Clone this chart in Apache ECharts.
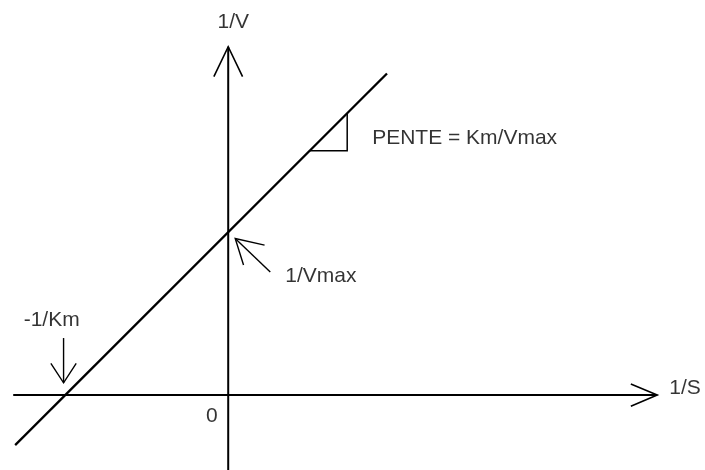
<!DOCTYPE html>
<html>
<head>
<meta charset="utf-8">
<script src="https://cdn.jsdelivr.net/npm/echarts@6/dist/echarts.min.js"></script>
<style>html,body{margin:0;padding:0;background:#fff}#c{width:705px;height:470px}</style>
</head>
<body>
<div id="c"></div>
<script>
// Lineweaver-Burk schematic, in units where 1/Vmax = 1 and -1/Km = -1 (slope Km/Vmax = 1)
const xAxisLine = [[-1.319, 0], [2.632, 0]];
const xAxisHead = [[2.47, 0.068], [2.632, 0], [2.47, -0.068]];
const yAxisLine = [[0, -0.46], [0, 2.138]];
const yAxisHead = [[-0.088, 1.955], [0, 2.138], [0.088, 1.955]];
const mainLine = [[-1.307, -0.307], [0.974, 1.974]];
const slopeTriangle = [[0.5, 1.5], [0.73, 1.5], [0.73, 1.73]];
const vmaxArrowShaft = [[0.258, 0.756], [0.043, 0.961]];
const vmaxArrowHead = [[0.223, 0.920], [0.043, 0.961], [0.094, 0.798]];
const kmArrowShaft = [[-1.01, 0.35], [-1.01, 0.0755]];
const kmArrowHead = [[-1.088, 0.1945], [-1.01, 0.0755], [-0.9325, 0.1945]];

const labelTexts = ['1/V', 'PENTE = Km/Vmax', '1/Vmax', '-1/Km', '0', '1/S'];
const labelPos = [[0.0307, 2.29], [0.883, 1.576], [0.35, 0.732], [-1.083, 0.462], [-0.101, -0.131], [2.706, 0.045]];
const labelAlign = ['center', 'left', 'left', 'center', 'center', 'left'];

function seg(data, w) {
  return {
    type: 'line', data: data, symbol: 'none', silent: true, animation: false,
    lineStyle: { color: '#000', width: w, join: 'miter', cap: 'butt' }
  };
}

const chart = echarts.init(document.getElementById('c'), null, { renderer: 'canvas' });
chart.setOption({
  backgroundColor: '#fff',
  animation: false,
  grid: { left: 0, right: 0, top: 0, bottom: 0 },
  xAxis: { type: 'value', min: -1.4, max: 2.925, show: false },
  yAxis: { type: 'value', min: -0.46, max: 2.425, show: false },
  series: [
    seg(xAxisLine, 2), seg(xAxisHead, 1.6),
    seg(yAxisLine, 2), seg(yAxisHead, 1.6),
    seg(mainLine, 2.3),
    seg(slopeTriangle, 1.5),
    seg(vmaxArrowShaft, 1.4), seg(vmaxArrowHead, 1.4),
    seg(kmArrowShaft, 1.4), seg(kmArrowHead, 1.4),
    {
      type: 'scatter', symbolSize: 0, silent: true, animation: false,
      data: labelTexts.map((t, i) => ({
        name: t, value: labelPos[i],
        label: { align: labelAlign[i] }
      })),
      label: {
        show: true, position: [0, 0], verticalAlign: 'middle',
        formatter: p => p.name,
        color: '#000', fontFamily: 'Liberation Sans, Arial, sans-serif', fontSize: 21
      }
    }
  ]
});
</script>
</body>
</html>
